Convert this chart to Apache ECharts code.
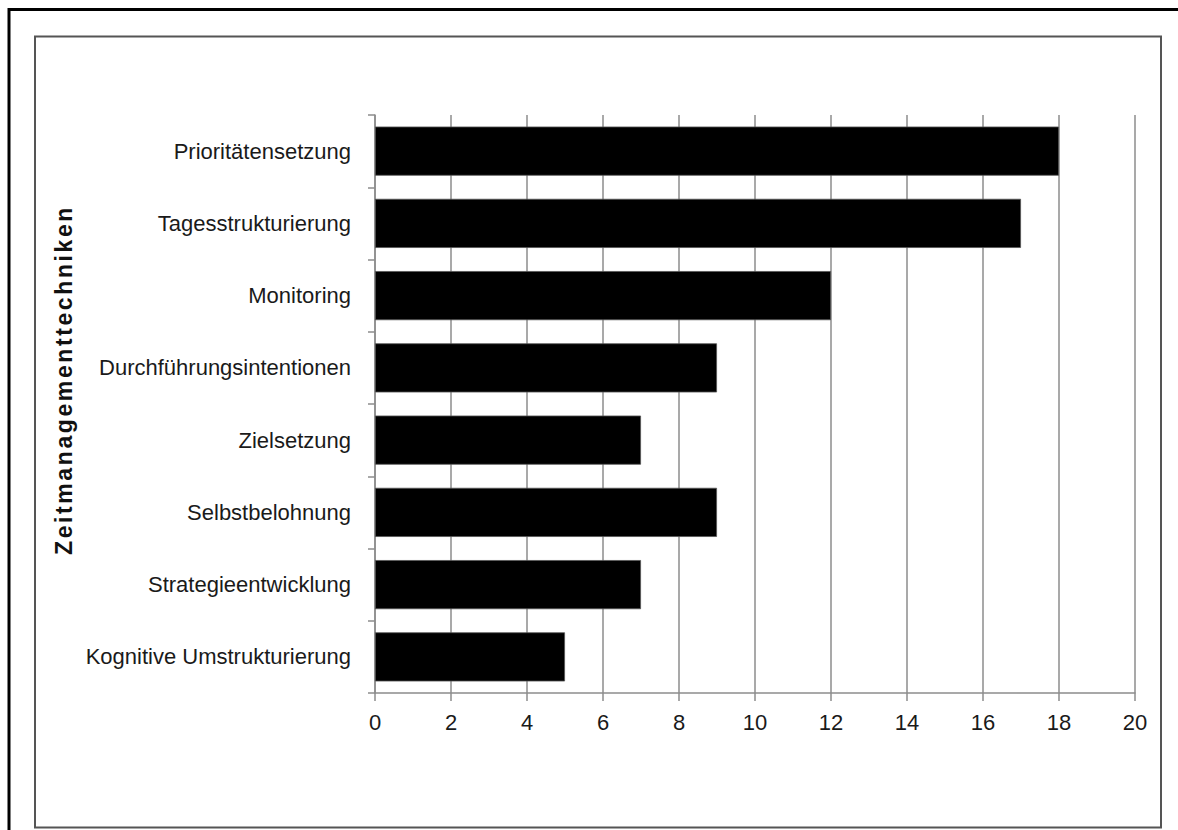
<!DOCTYPE html>
<html>
<head>
<meta charset="utf-8">
<script src="https://cdn.jsdelivr.net/npm/echarts@6/dist/echarts.min.js"></script>
<style>
  html, body { margin: 0; padding: 0; background: #fff; }
  #chart { width: 1178px; height: 830px; }
  /* the bold axis title is set with wide tracking */
  #chart text[style*="bold"] { letter-spacing: 2.6px; }
</style>
</head>
<body>
<div id="chart"></div>
<script>
// Time-management techniques and how often each was named
const categories = [
  'Prioritätensetzung',
  'Tagesstrukturierung',
  'Monitoring',
  'Durchführungsintentionen',
  'Zielsetzung',
  'Selbstbelohnung',
  'Strategieentwicklung',
  'Kognitive Umstrukturierung'
];
const counts = [18, 17, 12, 9, 7, 9, 7, 5];
const axisTitle = 'Zeitmanagementtechniken';

const FONT = '"Liberation Sans", Arial, sans-serif';

const chart = echarts.init(document.getElementById('chart'), null, { renderer: 'svg' });

chart.setOption({
  animation: false,
  backgroundColor: '#ffffff',
  grid: { left: 375, right: 43, top: 115, bottom: 137 },
  xAxis: {
    type: 'value',
    min: 0,
    max: 20,
    interval: 2,
    axisLine: { show: true, lineStyle: { color: '#8c8c8c', width: 1.5 } },
    axisTick: { show: true, length: 8, lineStyle: { color: '#8c8c8c', width: 1.5 } },
    splitLine: { show: true, lineStyle: { color: '#8c8c8c', width: 1.5 } },
    axisLabel: { color: '#1a1a1a', fontFamily: FONT, fontSize: 22, margin: 18 }
  },
  yAxis: {
    type: 'category',
    data: categories,
    inverse: true,
    axisLine: { show: true, lineStyle: { color: '#8c8c8c', width: 1.5 } },
    axisTick: { show: true, length: 7, lineStyle: { color: '#8c8c8c', width: 1.5 } },
    splitLine: { show: false },
    axisLabel: { color: '#1a1a1a', fontFamily: FONT, fontSize: 22, margin: 24 }
  },
  series: [{
    type: 'bar',
    data: counts,
    barCategoryGap: '32%',
    itemStyle: { color: '#000000', borderColor: '#555555', borderWidth: 0.8 },
    silent: true
  }],
  graphic: [
    {
      type: 'rect',
      shape: { x: 9, y: 9.5, width: 1200, height: 900 },
      style: { fill: 'none', stroke: '#000000', lineWidth: 3 },
      silent: true
    },
    {
      type: 'rect',
      shape: { x: 35, y: 36.5, width: 1126, height: 791 },
      style: { fill: 'none', stroke: '#555555', lineWidth: 2 },
      silent: true
    },
    {
      type: 'text',
      x: 64,
      y: 380,
      rotation: Math.PI / 2,
      style: {
        text: axisTitle,
        fontFamily: FONT,
        fontWeight: 'bold',
        fontSize: 23,
        fill: '#111111',
        align: 'center',
        verticalAlign: 'middle'
      },
      silent: true
    }
  ]
});
</script>
</body>
</html>
